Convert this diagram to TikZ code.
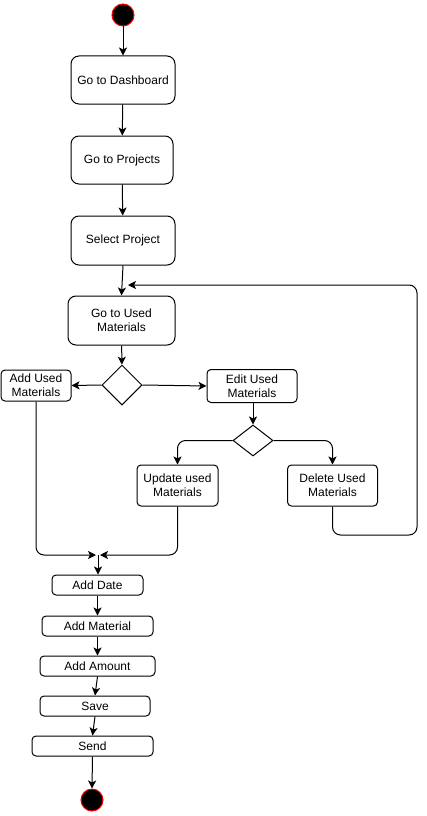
\documentclass[tikz,border=0pt]{standalone}
\usepackage{fontspec}
\setmainfont{Liberation Sans}
\usetikzlibrary{arrows.meta,shapes.geometric}
\begin{document}
\begin{tikzpicture}[x=1pt,y=-1pt,
  every node/.style={font=\fontsize{12}{14}\selectfont, inner sep=0pt},
  act/.style={draw, line width=1pt, rounded corners=8pt, align=center},
  small/.style={draw, line width=1pt, rounded corners=4pt, align=center},
  terminal/.style={circle, fill=black, draw=red, line width=1pt, minimum size=22pt},
  flow/.style={line width=1pt, -{Stealth[length=8pt,width=8pt,inset=2pt]}},
  link/.style={line width=1pt}]
\useasboundingbox (0,0) rectangle (426,816);

% start
\node[terminal] (start) at (123,15) {};

% main column
\node[act, minimum width=104pt, minimum height=48pt] (dash) at (123,80) {Go to Dashboard};
\node[act, minimum width=102pt, minimum height=48pt] (proj) at (122,160) {Go to Projects};
\node[act, minimum width=104pt, minimum height=49pt] (sel) at (123,240.5) {Select Project};
\node[act, minimum width=107pt, minimum height=49pt] (used) at (121.5,320.5) {Go to Used\\Materials};

% first choice
\node[draw, line width=1pt, diamond, minimum width=40pt, minimum height=40pt] (d1) at (122,385) {};
\node[small, minimum width=70pt, minimum height=31pt] (addu) at (36,385.5) {Add Used\\Materials};
\node[small, minimum width=90pt, minimum height=33pt] (edit) at (252,386) {Edit Used\\Materials};

% second choice
\node[draw, line width=1pt, diamond, minimum width=40pt, minimum height=31pt, aspect=1.3] (d2) at (253,440.5) {};
\node[small, minimum width=81pt, minimum height=41pt] (upd) at (177.5,485.5) {Update used\\Materials};
\node[small, minimum width=90pt, minimum height=41pt] (del) at (332.5,485.5) {Delete Used\\Materials};

% form steps
\node[small, minimum width=91pt, minimum height=20pt] (date) at (97.5,585) {Add Date};
\node[small, minimum width=111pt, minimum height=20pt] (mat) at (97.5,626) {Add Material};
\node[small, minimum width=115pt, minimum height=20pt] (amt) at (97.5,666) {Add Amount};
\node[small, minimum width=110pt, minimum height=20pt] (save) at (95,706) {Save};
\node[small, minimum width=121pt, minimum height=20pt] (send) at (92.5,746) {Send};

% end
\node[terminal] (stop) at (92,800) {};

% helper points
\coordinate (loopIn) at (128,285);
\coordinate (loopR) at (417,535);
\coordinate (mergeL) at (96,555);
\coordinate (mergeR) at (100,555);
\coordinate (merge) at (98,555);

% connectors
\draw[flow] (start) -- (start |- dash.north);
\draw[flow] (dash) -- (proj);
\draw[flow] (proj) -- (sel);
\draw[flow] (sel.south) -- (used.north);
\draw[flow] (used) -- (d1);
\draw[flow] (d1.west) -- (addu.east);
\draw[flow] (d1.east) -- (edit.west);
\draw[flow] (edit.south -| d2.north) -- (d2.north);
\draw[flow, rounded corners=8pt] (d2.west) -| (upd.north);
\draw[flow, rounded corners=8pt] (d2.east) -| (del.north);
\draw[flow, rounded corners=8pt] (del.south) |- (loopR) |- (loopIn);
\draw[flow, rounded corners=8pt] (addu.south) |- (mergeL);
\draw[flow, rounded corners=8pt] (upd.south) |- (mergeR);
\draw[flow] (merge) -- (merge |- date.north);
\draw[flow] (date) -- (mat);
\draw[flow] (mat) -- (amt);
\draw[flow] (amt.south) -- (save.north);
\draw[flow] (save.south) -- (send.north);
\draw[flow] (send.south) -- (stop.north);
\end{tikzpicture}
\end{document}
